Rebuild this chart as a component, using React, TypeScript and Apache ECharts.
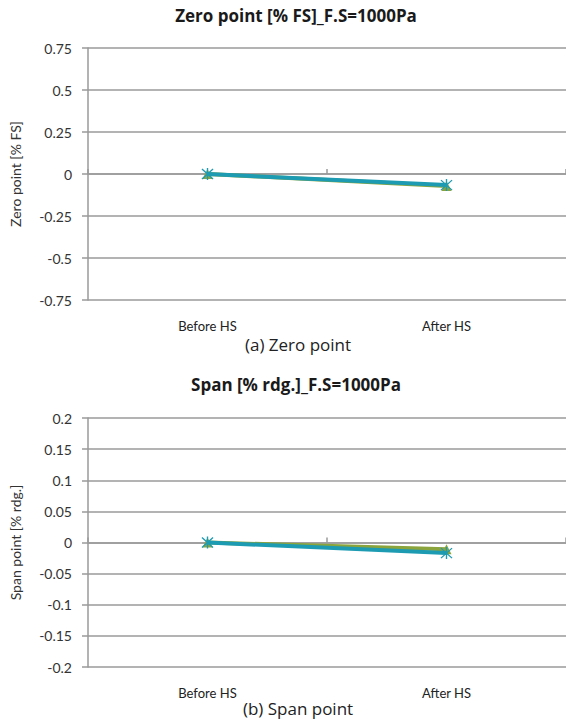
import React, { useEffect, useRef } from "react";
import * as echarts from "echarts";

const categories = ["Before HS", "After HS"];

// Zero point [% FS]
const zeroTriangle = [0, -0.072];
const zeroStar = [0, -0.066];
const zeroTicks = { min: -0.75, max: 0.75, interval: 0.25 };

// Span [% rdg.]
const spanTriangle = [0, -0.011];
const spanStar = [0, -0.017];
const spanTicks = { min: -0.2, max: 0.2, interval: 0.05 };

const GREEN = "#8ba43c";
const TEAL = "#1d9bb2";
const GRID_COLOR = "#9a9a9a";
const LABEL_FONT = "Lato, 'Open Sans', sans-serif";
const TITLE_FONT = "'Open Sans', sans-serif";

const starPath =
  "path://M-0.6,-6L0.6,-6L0.6,6L-0.6,6Z M-5.2,-4.6L-4.4,-5.4L5.2,4.6L4.4,5.4Z M4.4,-5.4L5.2,-4.6L-4.4,5.4L-5.2,4.6Z";

function fmt(v: number) {
  if (v === 0) return "0";
  return String(Math.round(v * 100) / 100);
}

export default function App() {
  const ref = useRef<HTMLDivElement>(null);

  useEffect(() => {
    if (!ref.current) return;
    const chart = echarts.init(ref.current, null, { renderer: "svg" });

    const grids = [
      { left: 88, top: 48, width: 478, height: 252 },
      { left: 88, top: 418, width: 478, height: 249 },
    ];

    const yAxis = (gi: number, ticks: { min: number; max: number; interval: number }, name: string) => ({
      type: "value",
      gridIndex: gi,
      min: ticks.min,
      max: ticks.max,
      interval: ticks.interval,
      name,
      nameLocation: "middle",
      nameGap: 66,
      nameTextStyle: { fontFamily: LABEL_FONT, fontSize: 14, color: "#333" },
      axisLine: { show: true, lineStyle: { color: GRID_COLOR, width: 1.5 } },
      axisTick: { show: true, length: 6, lineStyle: { color: GRID_COLOR, width: 1.5 } },
      axisLabel: {
        fontFamily: LABEL_FONT,
        fontSize: 14,
        color: "#333",
        margin: 16,
        formatter: fmt,
      },
      splitLine: { show: true, lineStyle: { color: GRID_COLOR, width: 1.5 } },
    });

    const labelAxis = (gi: number) => ({
      type: "category",
      gridIndex: gi,
      data: categories,
      boundaryGap: true,
      position: "bottom",
      axisLine: { show: false, onZero: false },
      axisTick: { show: false },
      axisLabel: { fontFamily: LABEL_FONT, fontSize: 13, color: "#222", margin: 19 },
    });

    const zeroAxis = (gi: number) => ({
      type: "category",
      gridIndex: gi,
      data: categories,
      boundaryGap: true,
      position: "bottom",
      axisLine: { show: true, onZero: true, lineStyle: { color: GRID_COLOR, width: 1.5 } },
      axisTick: { show: true, inside: true, length: 5, lineStyle: { color: GRID_COLOR, width: 1.5 } },
      axisLabel: { show: false },
    });

    const lineSeries = (
      xi: number,
      yi: number,
      data: number[],
      color: string,
      symbol: string,
      symbolSize: number,
      z: number
    ) => ({
      type: "line",
      xAxisIndex: xi,
      yAxisIndex: yi,
      data,
      symbol,
      symbolSize,
      z,
      lineStyle: { color, width: 4 },
      itemStyle: { color, borderWidth: 0 },
    });

    const heading = (text: string, top: number) => ({
      text,
      left: 291,
      top,
      textAlign: "center",
      textStyle: { fontFamily: TITLE_FONT, fontSize: 17, fontWeight: "bold", color: "#1a1a1a" },
    });

    const caption = (text: string, top: number) => ({
      text,
      left: 293,
      top,
      textAlign: "center",
      textStyle: { fontFamily: TITLE_FONT, fontSize: 17, fontWeight: "normal", color: "#222" },
    });

    chart.setOption({
      animation: false,
      backgroundColor: "#ffffff",
      title: [
        heading("Zero point [% FS]_F.S=1000Pa", 2),
        heading("Span [% rdg.]_F.S=1000Pa", 371),
        caption("(a) Zero point", 331),
        caption("(b) Span point", 695),
      ],
      grid: grids,
      xAxis: [labelAxis(0), zeroAxis(0), labelAxis(1), zeroAxis(1)],
      yAxis: [yAxis(0, zeroTicks, "Zero point [% FS]"), yAxis(1, spanTicks, "Span point [% rdg.]")],
      series: [
        lineSeries(0, 0, zeroTriangle, GREEN, "triangle", 10, 2),
        lineSeries(0, 0, zeroStar, TEAL, starPath, 12, 3),
        lineSeries(2, 1, spanTriangle, GREEN, "triangle", 10, 2),
        lineSeries(2, 1, spanStar, TEAL, starPath, 12, 3),
      ],
    });

    return () => chart.dispose();
  }, []);

  return (
    <div
      ref={ref}
      style={{ position: "fixed", left: 0, top: 0, width: 566, height: 719, background: "#fff" }}
    />
  );
}
